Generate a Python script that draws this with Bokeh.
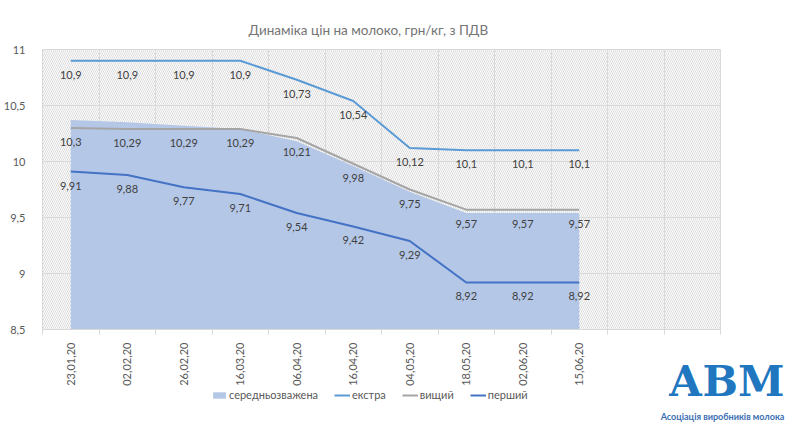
import math
import numpy as np
from bokeh.plotting import figure
from bokeh.models import (Range1d, FixedTicker, CustomJSTickFormatter, BoxAnnotation,
                          Legend, LegendItem, Label)
from bokeh.core.properties import value
from bokeh.embed import file_html
from bokeh.resources import INLINE

# ---- data ----
dates = ["23,01,20", "02,02,20", "26,02,20", "16,03,20", "06,04,20",
         "16,04,20", "04,05,20", "18,05,20", "02,06,20", "15,06,20"]
blank_slots = 2
avg = [10.37, 10.35, 10.32, 10.29, 10.18, 9.96, 9.73, 9.54, 9.54, 9.54]
ekstra = [10.9, 10.9, 10.9, 10.9, 10.73, 10.54, 10.12, 10.1, 10.1, 10.1]
vyshchyi = [10.3, 10.29, 10.29, 10.29, 10.21, 9.98, 9.75, 9.57, 9.57, 9.57]
pershyi = [9.91, 9.88, 9.77, 9.71, 9.54, 9.42, 9.29, 8.92, 8.92, 8.92]
y_ticks = [8.5, 9, 9.5, 10, 10.5, 11]
series_names = ["середньозважена", "екстра", "вищий", "перший"]
title_text = "Динаміка цін на молоко, грн/кг, з ПДВ"
logo_big = "АВМ"
logo_small = "Асоціація виробників молока"

# ---- layout constants (pixels) ----
FONT = "Lato"
PLOT_W, PLOT_H = 678, 280          # chart plot area
FRAME_W, FRAME_H = 752, 383        # drawing frame incl. legend / logo zone below
PAD_LEFT, PAD_TOP = 2, 7           # frame padding before the plot area
n_slots = len(dates) + blank_slots
y_min, y_max = y_ticks[0], y_ticks[-1]
px_x = PLOT_W / n_slots
px_y = PLOT_H / (y_max - y_min)

x = np.arange(len(dates)) + 0.5

p = figure(frame_width=FRAME_W, frame_height=FRAME_H,
           x_range=Range1d(-PAD_LEFT / px_x, (FRAME_W - PAD_LEFT) / px_x),
           y_range=Range1d(y_max + PAD_TOP / px_y - FRAME_H / px_y, y_max + PAD_TOP / px_y),
           output_backend="svg", toolbar_location=None,
           min_border_left=0, min_border_top=42, min_border_right=0, min_border_bottom=0)
p.outline_line_color = None
p.background_fill_color = "white"
p.border_fill_color = "white"

# hatched plot-area background
p.add_layout(BoxAnnotation(left=0, right=n_slots, bottom=y_min, top=y_max,
                           fill_color="white", fill_alpha=1.0, hatch_pattern="\\",
                           hatch_color="#d2d2d2", hatch_scale=4, hatch_weight=0.8,
                           line_color=None, level="image"))

# title
p.title.text = title_text
p.title.align = "left"
p.title.offset = 208
p.title.text_font = FONT
p.title.text_font_size = "13.5px"
p.title.text_font_style = "normal"
p.title.text_color = "#757575"

# glyphs
area = p.varea(x=x, y1=y_min, y2=avg, fill_color="#b4c7e7")
l_e = p.line(x, ekstra, line_color="#5b9bd5", line_width=2)
l_v = p.line(x, vyshchyi, line_color="#a5a5a5", line_width=2)
l_p = p.line(x, pershyi, line_color="#4472c4", line_width=2)

def fmt(v):
    return ("%g" % v).replace(".", ",")

for ser in (ekstra, vyshchyi, pershyi):
    p.text(x, ser, text=[fmt(v) for v in ser], y_offset=14,
           text_align="center", text_baseline="middle",
           text_font=value(FONT), text_font_size="11px", text_color="#404040")

# axes
xa = p.xaxis[0]
xa.fixed_location = y_min
xa.bounds = (0, n_slots)
xa.ticker = FixedTicker(ticks=list(x), minor_ticks=list(range(n_slots + 1)))
xa.formatter = CustomJSTickFormatter(args=dict(labels=dates),
                                     code="const i = Math.floor(tick); return i < labels.length ? labels[i] : '';")
xa.major_label_orientation = math.pi / 2
xa.major_tick_line_color = None
xa.minor_tick_line_color = "#d9d9d9"
xa.minor_tick_in = 0
xa.minor_tick_out = 5
xa.axis_line_color = "#d9d9d9"
xa.major_label_text_font = FONT
xa.major_label_text_font_size = "11px"
xa.major_label_text_color = "#595959"
xa.major_label_standoff = 7

ya = p.yaxis[0]
ya.ticker = FixedTicker(ticks=y_ticks, minor_ticks=[])
ya.formatter = CustomJSTickFormatter(code="return tick.toString().replace('.', ',');")
ya.axis_line_color = None
ya.major_tick_line_color = None
ya.minor_tick_line_color = None
ya.major_label_text_font = FONT
ya.major_label_text_font_size = "11px"
ya.major_label_text_color = "#595959"
ya.major_label_standoff = 9

p.xgrid.ticker = FixedTicker(ticks=list(range(n_slots + 1)))
p.xgrid.cross_bounds = (y_min, y_max)
p.ygrid.cross_bounds = (0, n_slots)
p.xgrid.grid_line_color = "#d9d9d9"
p.ygrid.grid_line_color = "#d9d9d9"

# legend
legend = Legend(items=[LegendItem(label=series_names[0], renderers=[area]),
                       LegendItem(label=series_names[1], renderers=[l_e]),
                       LegendItem(label=series_names[2], renderers=[l_v]),
                       LegendItem(label=series_names[3], renderers=[l_p])],
                orientation="horizontal", location=(171, 24),
                border_line_color=None, background_fill_alpha=0,
                label_text_font=FONT, label_text_font_size="11px", label_text_color="#595959",
                glyph_width=16, glyph_height=8, spacing=16, label_standoff=2,
                padding=0, margin=0)
p.add_layout(legend, "center")

# logo
p.add_layout(Label(x=686, y=44, x_units="screen", y_units="screen", text=logo_big,
                   text_align="center", text_baseline="middle",
                   text_font="DejaVu Serif", text_font_style="bold",
                   text_font_size="42px", text_color="#2077c0"))
p.add_layout(Label(x=682, y=9, x_units="screen", y_units="screen", text=logo_small,
                   text_align="center", text_baseline="middle",
                   text_font=FONT, text_font_style="bold",
                   text_font_size="9px", text_color="#3a6fb3"))

open("out.html", "w").write(file_html(p, INLINE))
